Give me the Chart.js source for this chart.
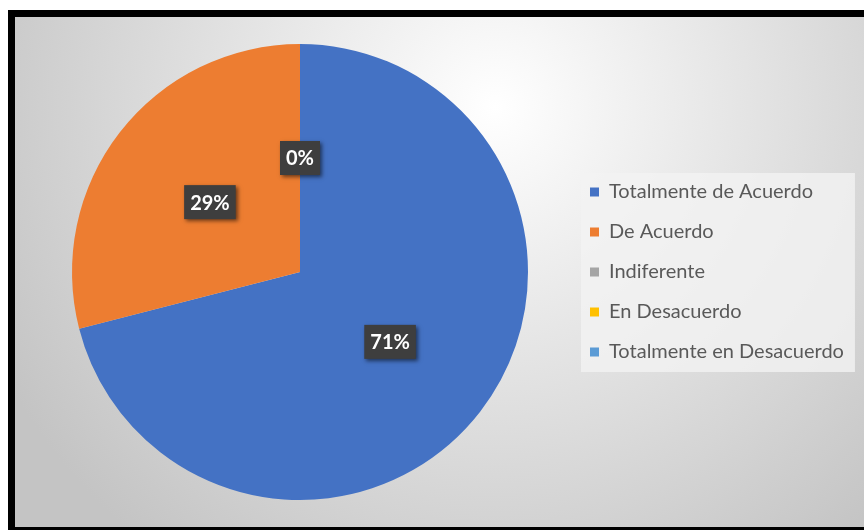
<!DOCTYPE html>
<html>
<head>
<meta charset="utf-8">
<script src="https://cdn.jsdelivr.net/npm/chart.js@4.4.1/dist/chart.umd.min.js"></script>
<style>
  html, body { margin:0; padding:0; width:864px; height:530px; overflow:hidden; background:#ffffff; }
  #frame {
    position:absolute; left:8px; top:10px; width:900px; height:524px;
    box-sizing:border-box; border:7px solid #000;
    background: radial-gradient(circle 560px at 480px 90px, #ffffff 0%, #f4f4f4 18%, #c4c4c4 100%);
  }
  #wrap { position:absolute; left:15px; top:17px; width:849px; height:510px; }
</style>
</head>
<body>
<div id="frame"></div>
<div id="wrap"><canvas id="c"></canvas></div>
<script>
const categories = ['Totalmente de Acuerdo', 'De Acuerdo', 'Indiferente', 'En Desacuerdo', 'Totalmente en Desacuerdo'];
const percentages = [71, 29, 0, 0, 0];
const sliceColors = ['#4472C4', '#ED7D31', '#A5A5A5', '#FFC000', '#5B9BD5'];

const legendFontSize = 20;
const legendPad = 20;
const boxW = 9;
const canvasW = 849;
const legendLeft = 555;

// measure widest legend text to set right padding
const mc = document.createElement('canvas').getContext('2d');
mc.font = legendFontSize + 'px Lato';
let maxText = 0;
categories.forEach(t => { maxText = Math.max(maxText, mc.measureText(t).width); });
const legendW = legendPad + (boxW + legendFontSize / 2 + maxText) + 10;
const padRight = Math.max(0, canvasW - legendLeft - legendW);

const legendBg = {
  id: 'legendBg',
  beforeDraw(chart) {
    const hb = chart.legend && chart.legend.legendHitBoxes;
    if (!hb || !hb.length) return;
    let l = Infinity, r = -Infinity, t = Infinity, b = -Infinity;
    hb.forEach(h => { l = Math.min(l, h.left); r = Math.max(r, h.left + h.width); t = Math.min(t, h.top); b = Math.max(b, h.top + h.height); });
    const ctx = chart.ctx;
    ctx.save();
    ctx.fillStyle = 'rgba(243,243,243,0.8)';
    ctx.fillRect(l - 9, t - 9, (r + 11) - (l - 9), (b + 10) - (t - 9));
    ctx.restore();
  }
};

const pctLabels = {
  id: 'pctLabels',
  afterDatasetsDraw(chart) {
    const ctx = chart.ctx;
    const meta = chart.getDatasetMeta(0);
    const data = chart.data.datasets[0].data;
    const total = data.reduce((a, b) => a + b, 0);
    const seen = {};
    ctx.save();
    ctx.font = 'bold 20px Lato';
    meta.data.forEach((arc, i) => {
      const p = arc.getCenterPoint();
      const txt = Math.round(data[i] / total * 100) + '%';
      const key = Math.round(p.x) + ',' + Math.round(p.y) + txt;
      if (seen[key]) return;
      seen[key] = true;
      const w = ctx.measureText(txt).width + 12, h = 34;
      ctx.shadowColor = 'rgba(0,0,0,0.55)';
      ctx.shadowBlur = 4; ctx.shadowOffsetX = 2; ctx.shadowOffsetY = 2;
      ctx.fillStyle = '#3e3e3e';
      ctx.fillRect(p.x - w / 2, p.y - h / 2, w, h);
      ctx.shadowColor = 'transparent';
      ctx.fillStyle = '#ffffff';
      ctx.textAlign = 'center';
      ctx.textBaseline = 'middle';
      ctx.fillText(txt, p.x, p.y + 1);
    });
    ctx.restore();
  }
};

new Chart(document.getElementById('c'), {
  type: 'pie',
  data: {
    labels: categories,
    datasets: [{
      data: percentages,
      backgroundColor: sliceColors,
      borderWidth: 0
    }]
  },
  options: {
    responsive: true,
    maintainAspectRatio: false,
    animation: false,
    layout: { padding: { left: 15, right: padRight, top: 27, bottom: 27 } },
    plugins: {
      tooltip: { enabled: false },
      legend: {
        position: 'right',
        align: 'center',
        labels: {
          boxWidth: boxW,
          boxHeight: boxW,
          padding: legendPad,
          color: '#595959',
          font: { family: 'Lato', size: legendFontSize }
        }
      }
    }
  },
  plugins: [legendBg, pctLabels]
});
</script>
</body>
</html>
